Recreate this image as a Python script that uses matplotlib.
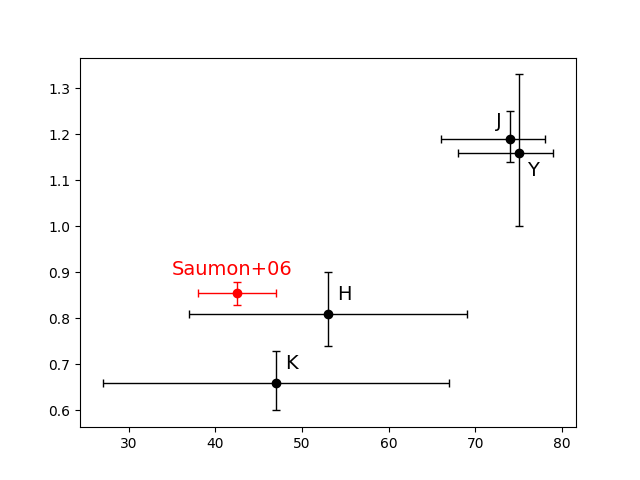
import numpy as np
from matplotlib import pyplot as plt

# bands and their points
bands = ["J", "Y", "H", "K"]
x_vals = [74, 75, 53, 47]
y_vals = [1.19, 1.16, 0.81, 0.66]
x_lo = [66, 68, 37, 27]
x_hi = [78, 79, 69, 67]
y_lo = [1.14, 1.00, 0.74, 0.60]
y_hi = [1.25, 1.33, 0.90, 0.73]

# Saumon+06 reference point
saumon_x = 42.5
saumon_y = 0.855
saumon_xlo, saumon_xhi = 38, 47
saumon_ylo, saumon_yhi = 0.83, 0.88

label_pos = {"J": (72.4, 1.208), "Y": (76.0, 1.10), "H": (54.1, 0.831), "K": (48.0, 0.682)}

fig, ax = plt.subplots(figsize=(6.4, 4.8))

x = np.array(x_vals)
y = np.array(y_vals)
xerr = [x - np.array(x_lo), np.array(x_hi) - x]
yerr = [y - np.array(y_lo), np.array(y_hi) - y]
ax.errorbar(x, y, xerr=xerr, yerr=yerr, fmt="o", color="k", ecolor="k",
            elinewidth=1, capsize=3)

ax.errorbar([saumon_x], [saumon_y],
            xerr=[[saumon_x - saumon_xlo], [saumon_xhi - saumon_x]],
            yerr=[[saumon_y - saumon_ylo], [saumon_yhi - saumon_y]],
            fmt="o", color="r", ecolor="r", elinewidth=1, capsize=3)

for b in bands:
    px, py = label_pos[b]
    ax.text(px, py, b, fontsize=14, ha="left", va="bottom")

ax.text(41.9, 0.886, "Saumon+06", color="r", fontsize=14, ha="center", va="bottom")

plt.savefig("out.png", dpi=100)
